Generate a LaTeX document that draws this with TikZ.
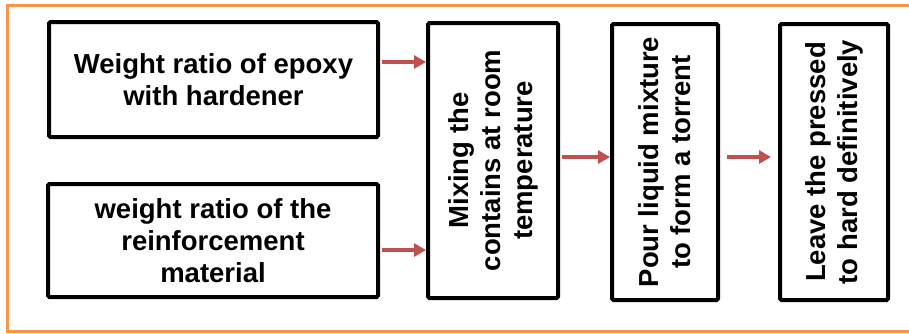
\documentclass[tikz,border=0pt]{standalone}
\usepackage{fontspec}
\setmainfont{Liberation Sans}
\usetikzlibrary{arrows.meta,positioning}
\definecolor{frameorange}{RGB}{247,150,70}
\definecolor{arrowred}{RGB}{192,80,77}

\begin{document}
\begin{tikzpicture}[x=1pt, y=-1pt,
    box/.style={rectangle, draw=black, line width=4pt, rounded corners=1.5pt,
                align=center, inner sep=2pt, font=\fontsize{27.5}{32}\selectfont\bfseries},
    vbox/.style={box, rotate=90},
    arrow/.style={-{Triangle[length=12pt,width=13pt]}, line width=3.5pt, arrowred}
]
\useasboundingbox (0,0) rectangle (909,333);

% Frame
\draw[frameorange, line width=3pt] (909,5) -- (7,5) -- (7,331) -- (909,331);

% Inputs
\node[box, minimum width=329pt, minimum height=115pt] (epoxy) at (213.5,79.5) {Weight ratio of epoxy\\with hardener};
\node[box, minimum width=330pt, minimum height=113pt] (reinf) at (213,240.5) {weight ratio of the\\reinforcement\\material};

% Process steps
\node[vbox, minimum width=275pt, minimum height=130pt] (mixing) at (493,160.5) {Mixing the\\contains at room\\temperature};
\node[vbox, minimum width=276pt, minimum height=106pt] (pour) at (665,162) {Pour liquid mixture\\to form a torrent};
\node[vbox, minimum width=276pt, minimum height=108pt] (leave) at (834,162) {Leave the pressed\\to hard definitively};

\coordinate (in1) at ([yshift=17.5pt]epoxy.east);
\coordinate (in2) at ([yshift=-9.5pt]reinf.east);
\coordinate (out1) at ([yshift=3.5pt]mixing.south);

\draw[arrow, shorten <=2pt] (in1) -- (in1 -| mixing.north);
\draw[arrow, shorten <=2pt] (in2) -- (in2 -| mixing.north);
\draw[arrow, shorten <=2pt] (out1) -- (out1 -| pour.north);
\draw[arrow, shorten <=7pt, shorten >=7pt] (out1 -| pour.south) -- (out1 -| leave.north);

\end{tikzpicture}
\end{document}
